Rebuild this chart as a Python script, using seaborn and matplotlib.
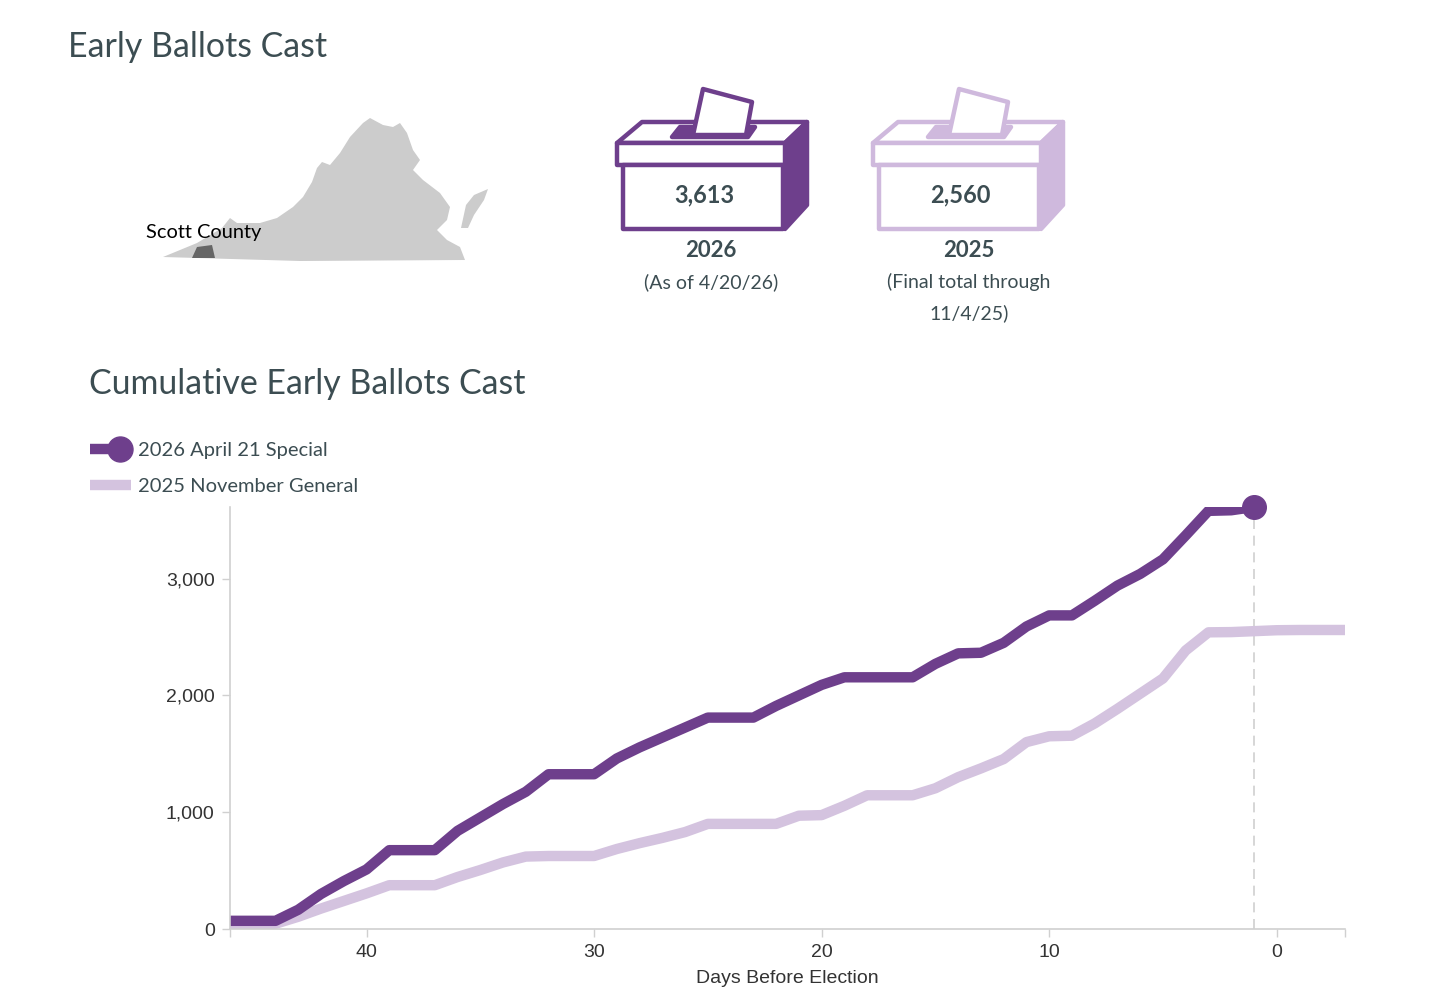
import pandas as pd
import matplotlib.pyplot as plt
import seaborn as sns
from matplotlib.patches import Polygon, Rectangle
from matplotlib.ticker import FuncFormatter

sns.set_theme(style="white")
plt.rcParams['font.family'] = ['Lato', 'DejaVu Sans']

# --- data ---
days_2026 = list(range(46, 0, -1))
votes_2026 = [70, 70, 70, 165, 300, 410, 510, 675, 675, 675,
              840, 955, 1070, 1175, 1325, 1325, 1325, 1460, 1555, 1640,
              1725, 1810, 1810, 1810, 1910, 2000, 2090, 2155, 2155, 2155,
              2155, 2270, 2360, 2365, 2450, 2590, 2685, 2685, 2810, 2940,
              3040, 3165, 3370, 3580, 3585, 3613]
days_2025 = list(range(46, -4, -1))
votes_2025 = [40, 40, 45, 105, 175, 240, 305, 375, 375, 375,
              445, 505, 570, 620, 625, 625, 625, 685, 735, 780,
              830, 900, 900, 900, 900, 970, 975, 1055, 1145, 1145,
              1145, 1205, 1300, 1375, 1455, 1600, 1650, 1655, 1760, 1885,
              2015, 2145, 2385, 2540, 2542, 2550, 2558, 2560, 2560, 2560]
series_names = ["2026 April 21 Special", "2025 November General"]
total_2026 = "3,613"
total_2025 = "2,560"
x_ticks = [40, 30, 20, 10, 0]
y_ticks = [0, 1000, 2000, 3000]

PURPLE = "#6e3f8c"
LILAC = "#d4c3df"
TEXT = "#3c4d52"
GRID = "#d0d0d0"

df = pd.concat([
    pd.DataFrame({"day": days_2026, "votes": votes_2026, "series": series_names[0]}),
    pd.DataFrame({"day": days_2025, "votes": votes_2025, "series": series_names[1]}),
])

W, H = 1456, 996
fig = plt.figure(figsize=(W / 100, H / 100), dpi=100)

# overlay for the infographic part, in pixel coordinates
ov = fig.add_axes([0, 0, 1, 1])
ov.set_xlim(0, W)
ov.set_ylim(H, 0)
ov.axis("off")

ov.text(68, 47, "Early Ballots Cast", fontsize=24.4, color=TEXT, va="center", ha="left")
ov.text(89, 384, "Cumulative Early Ballots Cast", fontsize=24.4, color=TEXT, va="center", ha="left")

# rough Virginia outline
va_shape = [(163, 257), (197, 243), (222, 228), (230, 218), (237, 223), (260, 223),
            (277, 218), (293, 207), (303, 197), (312, 182), (317, 168), (322, 162),
            (330, 165), (340, 153), (350, 137), (363, 123), (370, 118), (383, 125),
            (393, 127), (400, 123), (407, 133), (413, 150), (420, 160), (413, 170),
            (423, 180), (440, 193), (450, 207), (447, 220), (437, 230), (447, 240),
            (460, 247), (465, 260), (300, 261)]
ov.add_patch(Polygon(va_shape, closed=True, fc="#cccccc", ec="none"))
ov.add_patch(Polygon([(461, 228), (466, 205), (474, 195), (488, 189), (484, 200),
                      (474, 215), (468, 228)],
                     closed=True, fc="#cccccc", ec="none"))
ov.add_patch(Polygon([(192, 258), (197, 247), (212, 245), (215, 258)],
                     closed=True, fc="#666666", ec="none"))
ov.text(146, 232, "Scott County", fontsize=14.4, color="black", va="center", ha="left")


def ballot_box(ax, dx, color, number, year, notes):
    kw = dict(ec=color, lw=3.2, joinstyle="round")
    ax.add_patch(Polygon([(617 + dx, 143), (642 + dx, 122), (807 + dx, 122), (785 + dx, 143)],
                         closed=True, fc="white", zorder=1, **kw))
    ax.add_patch(Polygon([(672 + dx, 137), (680 + dx, 127), (755 + dx, 127), (748 + dx, 137)],
                         closed=True, fc=color, zorder=2, **kw))
    ax.add_patch(Polygon([(693 + dx, 135), (703 + dx, 89), (752 + dx, 102), (746 + dx, 135)],
                         closed=True, fc="white", zorder=3, **kw))
    ax.add_patch(Polygon([(785 + dx, 143), (807 + dx, 122), (807 + dx, 205), (785 + dx, 229)],
                         closed=True, fc=color, zorder=2, **kw))
    ax.add_patch(Rectangle((617 + dx, 143), 168, 22, fc="white", zorder=2, **kw))
    ax.add_patch(Rectangle((623 + dx, 165), 160, 64, fc="white", zorder=2, **kw))
    ax.text(704 + dx, 195, number, fontsize=17, fontweight="bold", color=TEXT,
            ha="center", va="center", zorder=4)
    cx = 711 + dx if dx == 0 else 713 + dx
    ax.text(cx, 250, year, fontsize=16, fontweight="bold", color=TEXT, ha="center", va="center")
    for i, line in enumerate(notes):
        ax.text(cx, 282 + i * 31, line, fontsize=14, color=TEXT, ha="center", va="center")


ballot_box(ov, 0, PURPLE, total_2026, "2026", ["(As of 4/20/26)"])
ballot_box(ov, 256, "#cfb9dd", total_2025, "2025", ["(Final total through", "11/4/25)"])

# legend
ov.plot([90, 120], [449, 449], color=PURPLE, lw=7.5, solid_capstyle="butt")
ov.plot([120], [449], "o", color=PURPLE, ms=18)
ov.plot([90, 131], [485, 485], color=LILAC, lw=7.5, solid_capstyle="butt")
ov.text(138, 450, series_names[0], fontsize=14.5, color=TEXT, va="center", ha="left")
ov.text(138, 486, series_names[1], fontsize=14.5, color=TEXT, va="center", ha="left")

# main chart
ax = fig.add_axes([230 / W, 1 - 929 / H, (1345 - 230) / W, (929 - 507) / H])
ax.set_facecolor("none")
sns.lineplot(data=df, x="day", y="votes", hue="series", hue_order=series_names[::-1],
             palette={series_names[0]: PURPLE, series_names[1]: LILAC},
             linewidth=7.5, legend=False, ax=ax, sort=False)
for ln in ax.lines:
    ln.set_solid_joinstyle("round")
    ln.set_solid_capstyle("butt")
ax.axvline(days_2026[-1], ymax=1, color=GRID, lw=1.2, ls=(0, (6, 4)), zorder=0)
ax.plot([days_2026[-1]], [votes_2026[-1]], "o", color=PURPLE, ms=17, clip_on=False, zorder=5)

ax.set_xlim(days_2025[0], days_2025[-1])
ax.set_ylim(0, max(votes_2026))
ax.set_xticks(x_ticks + [days_2025[0], days_2025[-1]])
ax.set_xticklabels([str(t) for t in x_ticks] + ["", ""])
ax.set_yticks(y_ticks)
ax.yaxis.set_major_formatter(FuncFormatter(lambda v, p: f"{int(v):,}"))
for s in ["top", "right"]:
    ax.spines[s].set_visible(False)
for s in ["left", "bottom"]:
    ax.spines[s].set_color(GRID)
    ax.spines[s].set_linewidth(1.2)
ax.tick_params(axis="both", length=6, width=1, color=GRID, labelsize=14,
               labelcolor="#333333", pad=5, bottom=True, left=True)
for lab in ax.get_xticklabels() + ax.get_yticklabels():
    lab.set_family(["Liberation Sans", "DejaVu Sans"])
ax.set_xlabel("Days Before Election", fontsize=14, color="#333333",
              family=["Liberation Sans", "DejaVu Sans"], labelpad=6)
ax.set_ylabel("")
ax.grid(False)

fig.savefig("out.png", dpi=100)
